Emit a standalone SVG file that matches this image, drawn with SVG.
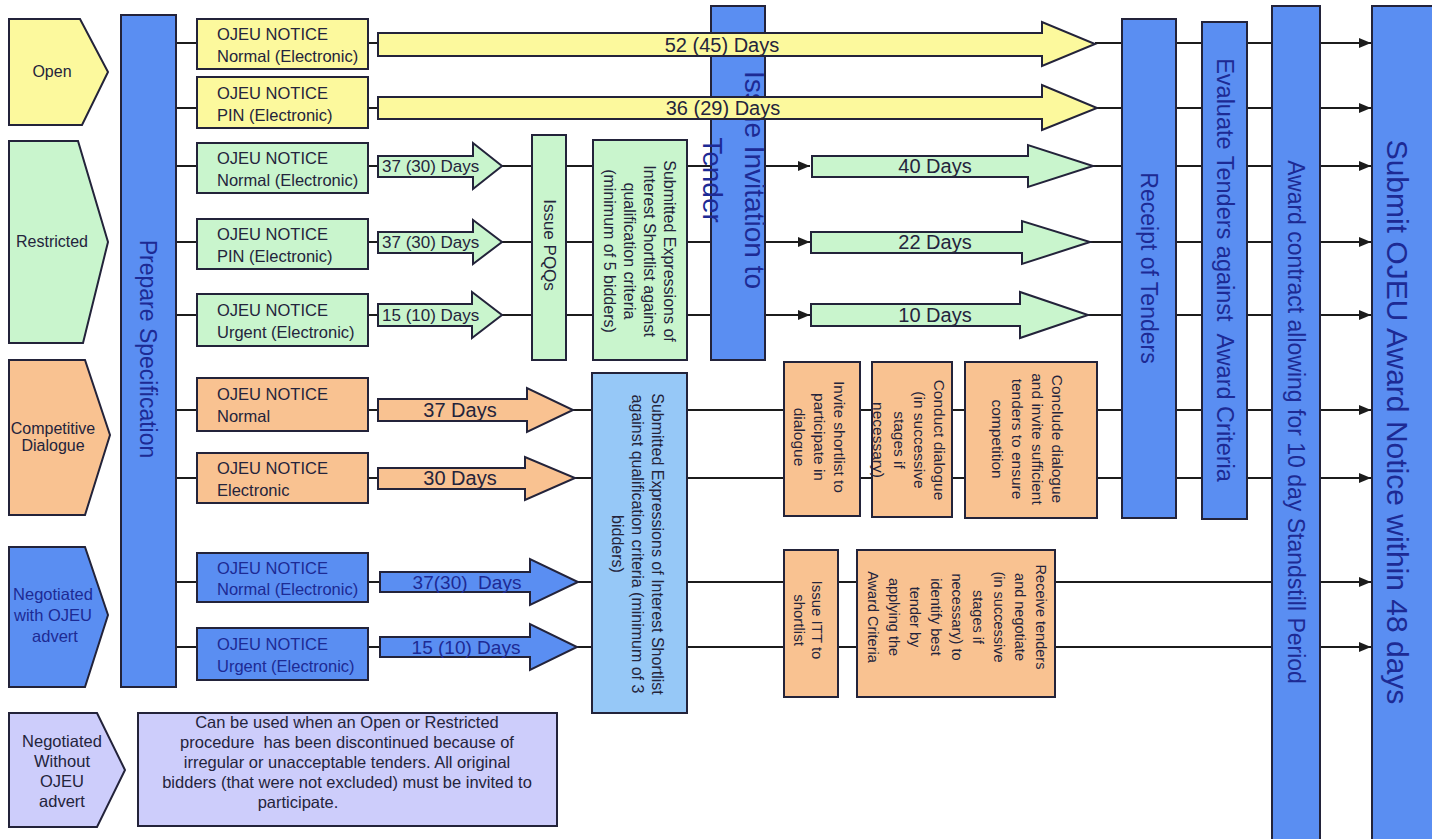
<svg xmlns="http://www.w3.org/2000/svg" width="1432" height="839" viewBox="0 0 1432 839">
<defs>
<style>
.t{font-family:"Liberation Sans",Arial,Helvetica,sans-serif;fill:#24243c}
.bt{fill:#1d2a94}
.s{stroke:#23233a;stroke-width:2}
.y{fill:#fcf99d}
.g{fill:#c9f5cd}
.o{fill:#f9c291}
.b{fill:#5a8ef2}
.lb{fill:#96c8f7}
.lv{fill:#cdcdfb}
.ln{stroke:#1c1c1c;stroke-width:2;fill:none}
.r,.r tspan{dominant-baseline:central}
.m{text-anchor:middle}
.n{font-size:16.5px}
</style>
<marker id="ah" markerUnits="userSpaceOnUse" markerWidth="12" markerHeight="10" refX="12" refY="5" orient="auto">
<path d="M0,0 L12,5 L0,10 z" fill="#1c1c1c"/>
</marker>
</defs>
<rect width="1432" height="839" fill="#ffffff"/>

<g id="connectors">
<path class="ln" d="M176,43H197 M368,43H378 M1095,43H1122 M1176,43H1202 M1247,43H1272
M176,108H197 M368,108H378 M1097,108H1122 M1176,108H1202 M1247,108H1272
M176,166H197 M368,166H378 M502,166H532 M566,166H593 M687,166H711 M1093,166H1122 M1176,166H1202 M1247,166H1272
M176,242H197 M368,242H378 M502,242H532 M566,242H593 M687,242H711 M1090,242H1122 M1176,242H1202 M1247,242H1272
M176,315H197 M368,315H378 M502,315H532 M566,315H593 M687,315H711 M1088,315H1122 M1176,315H1202 M1247,315H1272
M176,410H197 M368,410H378 M573,410H592 M687,410H784 M860,410H872 M952,410H965 M1097,410H1122 M1176,410H1202 M1247,410H1272
M176,478H197 M368,478H378 M575,478H592 M687,478H784 M860,478H872 M952,478H965 M1097,478H1122 M1176,478H1202 M1247,478H1272
M176,582H197 M368,582H380 M578,582H592 M687,582H784 M838,582H857 M1055,582H1272
M176,647H197 M368,647H380 M577,647H592 M687,647H784 M838,647H857 M1055,647H1272"/>
<line class="ln" x1="765" y1="166" x2="810" y2="166" marker-end="url(#ah)"/>
<line class="ln" x1="765" y1="242" x2="810" y2="242" marker-end="url(#ah)"/>
<line class="ln" x1="765" y1="315" x2="810" y2="315" marker-end="url(#ah)"/>
<line class="ln" x1="1320" y1="43" x2="1371" y2="43" marker-end="url(#ah)"/>
<line class="ln" x1="1320" y1="108" x2="1371" y2="108" marker-end="url(#ah)"/>
<line class="ln" x1="1320" y1="166" x2="1371" y2="166" marker-end="url(#ah)"/>
<line class="ln" x1="1320" y1="242" x2="1371" y2="242" marker-end="url(#ah)"/>
<line class="ln" x1="1320" y1="315" x2="1371" y2="315" marker-end="url(#ah)"/>
<line class="ln" x1="1320" y1="410" x2="1371" y2="410" marker-end="url(#ah)"/>
<line class="ln" x1="1320" y1="478" x2="1371" y2="478" marker-end="url(#ah)"/>
<line class="ln" x1="1320" y1="582" x2="1371" y2="582" marker-end="url(#ah)"/>
<line class="ln" x1="1320" y1="647" x2="1371" y2="647" marker-end="url(#ah)"/>
</g>

<!-- procedure categories -->
<g id="cat-open">
<polygon class="s y" points="9,19 80,19 108,72 82,125 9,125"/>
<text class="t m" x="52" y="77" font-size="16">Open</text>
</g>
<g id="cat-restricted">
<polygon class="s g" points="9,141 78,141 108,242 83,343 9,343"/>
<text class="t m" x="52" y="247" font-size="16">Restricted</text>
</g>
<g id="cat-competitive">
<polygon class="s o" points="9,360 85,360 110,435 85,515 9,515"/>
<text class="t m" x="53" y="434" font-size="16">Competitive</text>
<text class="t m" x="53" y="451" font-size="16">Dialogue</text>
</g>
<g id="cat-negotiated-with">
<polygon class="s b" points="9,547 85,547 108,615 85,687 9,687"/>
<text class="t bt m" x="53" y="600" font-size="16.5">Negotiated</text>
<text class="t bt m" x="53" y="621" font-size="16.5">with OJEU</text>
<text class="t bt m" x="55" y="642" font-size="16.5">advert</text>
</g>
<g id="cat-negotiated-without">
<polygon class="s lv" points="9,713 97,713 125,770 97,827 9,827"/>
<text class="t m" x="62" y="747" font-size="16.5">Negotiated</text>
<text class="t m" x="62" y="767" font-size="16.5">Without</text>
<text class="t m" x="62" y="787" font-size="16.5">OJEU</text>
<text class="t m" x="62" y="807" font-size="16.5">advert</text>
</g>

<g id="prepare-spec">
<rect class="s b" x="121" y="15" width="55" height="672"/>
<text class="t bt m r" transform="translate(148,349) rotate(90)" font-size="23">Prepare Specification</text>
</g>

<!-- notice boxes -->
<g id="notice-open-normal">
<rect class="s y" x="197" y="19" width="171" height="50"/>
<text class="t n" x="217" y="40">OJEU NOTICE</text><text class="t n" x="217" y="62">Normal (Electronic)</text>
</g>
<g id="notice-open-pin">
<rect class="s y" x="197" y="77" width="171" height="51"/>
<text class="t n" x="217" y="99">OJEU NOTICE</text><text class="t n" x="217" y="121">PIN (Electronic)</text>
</g>
<g id="notice-res-normal">
<rect class="s g" x="197" y="143" width="171" height="50"/>
<text class="t n" x="217" y="164">OJEU NOTICE</text><text class="t n" x="217" y="186">Normal (Electronic)</text>
</g>
<g id="notice-res-pin">
<rect class="s g" x="197" y="219" width="171" height="50"/>
<text class="t n" x="217" y="240">OJEU NOTICE</text><text class="t n" x="217" y="262">PIN (Electronic)</text>
</g>
<g id="notice-res-urgent">
<rect class="s g" x="197" y="294" width="171" height="52"/>
<text class="t n" x="217" y="316">OJEU NOTICE</text><text class="t n" x="217" y="338">Urgent (Electronic)</text>
</g>
<g id="notice-cd-normal">
<rect class="s o" x="197" y="378" width="171" height="53"/>
<text class="t n" x="217" y="400">OJEU NOTICE</text><text class="t n" x="217" y="422">Normal</text>
</g>
<g id="notice-cd-electronic">
<rect class="s o" x="197" y="453" width="171" height="50"/>
<text class="t n" x="217" y="474">OJEU NOTICE</text><text class="t n" x="217" y="496">Electronic</text>
</g>
<g id="notice-neg-normal">
<rect class="s b" x="197" y="553" width="171" height="49"/>
<text class="t bt n" x="217" y="574">OJEU NOTICE</text><text class="t bt n" x="217" y="595">Normal (Electronic)</text>
</g>
<g id="notice-neg-urgent">
<rect class="s b" x="197" y="628" width="171" height="52"/>
<text class="t bt n" x="217" y="650">OJEU NOTICE</text><text class="t bt n" x="217" y="672">Urgent (Electronic)</text>
</g>

<g id="issue-itt">
<rect class="s b" x="711" y="6" width="54" height="354"/>
<text class="t bt m r" transform="translate(734,180) rotate(90)" font-size="28"><tspan x="0" y="-21">Issue Invitation to</tspan><tspan x="0" y="21">Tender</tspan></text>
</g>

<!-- timing arrows -->
<g id="arrow-open-normal">
<polygon class="s y" points="378,33 1042,33 1042,22 1095,44 1042,66 1042,56 378,56"/>
<text class="t m" x="722" y="52" font-size="20">52 (45) Days</text>
</g>
<g id="arrow-open-pin">
<polygon class="s y" points="378,97 1042,97 1042,85 1097,108 1042,130 1042,119 378,119"/>
<text class="t m" x="723" y="115" font-size="20">36 (29) Days</text>
</g>
<g id="arrow-res-normal">
<polygon class="s g" points="378,156 473,156 473,143 502,166 473,189 473,177 378,177"/>
<text class="t" x="382" y="172" font-size="17">37 (30) Days</text>
</g>
<g id="arrow-res-pin">
<polygon class="s g" points="378,232 473,232 473,220 502,242 473,264 473,253 378,253"/>
<text class="t" x="382" y="248" font-size="17">37 (30) Days</text>
</g>
<g id="arrow-res-urgent">
<polygon class="s g" points="378,304 472,304 472,292 502,315 472,338 472,326 378,326"/>
<text class="t" x="382" y="321" font-size="17">15 (10) Days</text>
</g>
<g id="arrow-40">
<polygon class="s g" points="812,156 1028,156 1028,145 1093,166 1028,187 1028,177 812,177"/>
<text class="t m" x="935" y="173" font-size="20">40 Days</text>
</g>
<g id="arrow-22">
<polygon class="s g" points="811,232 1022,232 1022,221 1090,242 1022,264 1022,253 811,253"/>
<text class="t m" x="935" y="249" font-size="20">22 Days</text>
</g>
<g id="arrow-10">
<polygon class="s g" points="811,304 1020,304 1020,292 1088,315 1020,338 1020,326 811,326"/>
<text class="t m" x="935" y="322" font-size="20">10 Days</text>
</g>
<g id="arrow-cd-37">
<polygon class="s o" points="378,399 527,399 527,388 573,410 527,432 527,421 378,421"/>
<text class="t m" x="460" y="417" font-size="20">37 Days</text>
</g>
<g id="arrow-cd-30">
<polygon class="s o" points="378,468 525,468 525,457 575,478 525,500 525,489 378,489"/>
<text class="t m" x="460" y="485" font-size="20">30 Days</text>
</g>
<g id="arrow-neg-37">
<polygon class="s b" points="380,572 530,572 530,559 578,582 530,605 530,592 380,592"/>
<text class="t bt m" x="467" y="589" font-size="19" xml:space="preserve">37(30)  Days</text>
</g>
<g id="arrow-neg-15">
<polygon class="s b" points="380,637 530,637 530,624 577,647 530,670 530,657 380,657"/>
<text class="t bt m" x="466" y="654" font-size="19">15 (10) Days</text>
</g>

<g id="issue-pqqs">
<rect class="s g" x="532" y="135" width="34" height="225"/>
<text class="t m r" transform="translate(549,245) rotate(90)" font-size="17">Issue PQQs</text>
</g>
<g id="res-shortlist">
<rect class="s g" x="593" y="140" width="94" height="220"/>
<text class="t m r" transform="translate(640,251) rotate(90)" font-size="16"><tspan x="0" y="-30">Submitted Expressions of</tspan><tspan x="0" y="-10">Interest Shortlist against</tspan><tspan x="0" y="10">qualification criteria</tspan><tspan x="0" y="30">(minimum of 5 bidders)</tspan></text>
</g>
<g id="cd-neg-shortlist">
<rect class="s lb" x="592" y="373" width="95" height="340"/>
<text class="t m r" transform="translate(638,544) rotate(90)" font-size="16"><tspan x="0" y="-20">Submitted Expressions of Interest Shortlist</tspan><tspan x="0" y="0">against qualification criteria (minimum of 3</tspan><tspan x="0" y="20">bidders)</tspan></text>
</g>
<g id="cd-invite">
<rect class="s o" x="784" y="362" width="76" height="154"/>
<text class="t m r" transform="translate(820,437) rotate(90)" font-size="15.5"><tspan x="0" y="-20">Invite shortlist to</tspan><tspan x="0" y="0">participate in</tspan><tspan x="0" y="20">dialogue</tspan></text>
</g>
<g id="cd-conduct">
<rect class="s o" x="872" y="362" width="80" height="155"/>
<text class="t m r" transform="translate(910,440) rotate(90)" font-size="15.5"><tspan x="0" y="-30">Conduct dialogue</tspan><tspan x="0" y="-10">(in successive</tspan><tspan x="0" y="10">stages if</tspan><tspan x="0" y="31">necessary)</tspan></text>
</g>
<g id="cd-conclude">
<rect class="s o" x="965" y="362" width="132" height="156"/>
<text class="t m r" transform="translate(1028,439) rotate(90)" font-size="15.5"><tspan x="0" y="-30">Conclude dialogue</tspan><tspan x="0" y="-10">and invite sufficient</tspan><tspan x="0" y="10">tenders to ensure</tspan><tspan x="0" y="30">competition</tspan></text>
</g>
<g id="neg-issue-itt">
<rect class="s o" x="784" y="550" width="54" height="147"/>
<text class="t m r" transform="translate(809,620) rotate(90)" font-size="15"><tspan x="0" y="-9">Issue ITT to</tspan><tspan x="0" y="9">shortlist</tspan></text>
</g>
<g id="neg-receive">
<rect class="s o" x="857" y="550" width="198" height="147"/>
<text class="t m r" transform="translate(957,617) rotate(90)" font-size="14.5"><tspan x="0" y="-84">Receive tenders</tspan><tspan x="0" y="-63">and negotiate</tspan><tspan x="0" y="-42">(in successive</tspan><tspan x="0" y="-21">stages if</tspan><tspan x="0" y="0">necessary) to</tspan><tspan x="0" y="21">identify best</tspan><tspan x="0" y="42">tender by</tspan><tspan x="0" y="63">applying the</tspan><tspan x="0" y="84">Award Criteria</tspan></text>
</g>

<g id="receipt">
<rect class="s b" x="1122" y="19" width="54" height="499"/>
<text class="t bt m r" transform="translate(1149,268) rotate(90)" font-size="23">Receipt of Tenders</text>
</g>
<g id="evaluate">
<rect class="s b" x="1202" y="22" width="45" height="497"/>
<text class="t bt m r" transform="translate(1225,270) rotate(90)" font-size="23.5" xml:space="preserve">Evaluate Tenders against  Award Criteria</text>
</g>
<g id="award">
<rect class="s b" x="1272" y="6" width="48" height="845"/>
<text class="t bt m r" transform="translate(1296,422) rotate(90)" font-size="23">Award contract allowing for 10 day Standstill Period</text>
</g>
<g id="submit">
<rect class="s b" x="1372" y="6" width="70" height="845"/>
<text class="t bt m r" transform="translate(1397,422) rotate(90)" font-size="30">Submit OJEU Award Notice within 48 days</text>
</g>

<g id="neg-without-note">
<rect class="s lv" x="138" y="713" width="419" height="113"/>
<text class="t m" x="347" y="728" font-size="16.5">Can be used when an Open or Restricted</text>
<text class="t m" x="347" y="748" font-size="16.5" xml:space="preserve">procedure  has been discontinued because of</text>
<text class="t m" x="347" y="768" font-size="16.5">irregular or unacceptable tenders. All original</text>
<text class="t m" x="347" y="788" font-size="16.5">bidders (that were not excluded) must be invited to</text>
<text class="t m" x="298" y="808" font-size="16.5">participate.</text>
</g>
</svg>
